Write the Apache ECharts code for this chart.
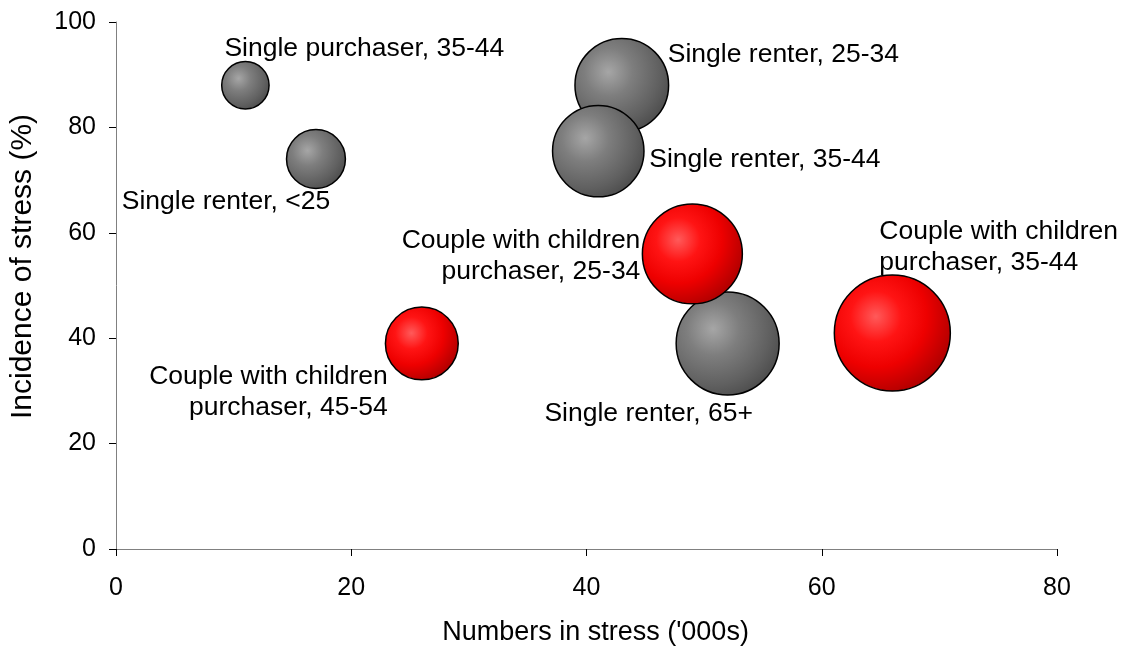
<!DOCTYPE html>
<html>
<head>
<meta charset="utf-8">
<script src="https://cdn.jsdelivr.net/npm/echarts@6/dist/echarts.min.js"></script>
<style>
html,body{margin:0;padding:0;background:#fff;}
#chart{width:1129px;height:651px;}
</style>
</head>
<body>
<div id="chart"></div>
<script>
// ---- data ----
const labels = [
  'Single purchaser, 35-44',
  'Single renter, <25',
  'Single renter, 25-34',
  'Single renter, 35-44',
  'Single renter, 65+',
  'Couple with children\npurchaser, 25-34',
  'Couple with children\npurchaser, 35-44',
  'Couple with children\npurchaser, 45-54'
];
const numbersInStress = [11, 17, 43, 41, 52, 49, 66, 26];   // '000s (x)
const incidenceOfStress = [88, 74, 88, 75.5, 39, 56, 41, 39]; // % (y)
const bubbleSize = [11, 17, 43, 41, 52, 49, 66, 26];
const household = ['single','single','single','single','single','couple','couple','couple'];
const xTicks = [0, 20, 40, 60, 80];
const yTicks = [0, 20, 40, 60, 80, 100];

// ---- styles ----
const FONT = 'Liberation Sans, Arial, sans-serif';
const labelStyles = [
  {align:'left',   offset:[-21,-37]},
  {align:'center', offset:[-90, 43]},
  {align:'left',   offset:[46,-31]},
  {align:'left',   offset:[51, 9]},
  {align:'center', offset:[-79, 70]},
  {align:'right',  offset:[-52, 2]},
  {align:'left',   offset:[-13,-86]},
  {align:'right',  offset:[-34, 49]}
];
const maxSize = Math.max.apply(null, bubbleSize);
const MAX_DIAM = 116;
function grad(stops){
  return {type:'radial', x:0.36, y:0.36, r:0.72, colorStops:stops};
}
const grayFill = grad([
  {offset:0, color:'#a6a6a6'},
  {offset:0.35, color:'#7e7e7e'},
  {offset:0.75, color:'#606060'},
  {offset:1, color:'#4a4a4a'}
]);
const redFill = grad([
  {offset:0, color:'#ff5a5a'},
  {offset:0.3, color:'#ff1414'},
  {offset:0.6, color:'#ee0000'},
  {offset:1, color:'#a80000'}
]);

function makeData(group){
  const out = [];
  for (let i = 0; i < labels.length; i++){
    if (household[i] !== group) continue;
    out.push({
      name: labels[i],
      value: [numbersInStress[i], incidenceOfStress[i], bubbleSize[i]],
      label: {
        show: true,
        position: 'inside',
        formatter: labels[i],
        align: labelStyles[i].align,
        verticalAlign: 'middle',
        offset: labelStyles[i].offset,
        color: '#000',
        fontFamily: FONT,
        fontSize: 26.5,
        lineHeight: 31
      }
    });
  }
  return out;
}
function sizeFn(v){ return MAX_DIAM * Math.sqrt(v[2] / maxSize); }

const option = {
  backgroundColor: '#fff',
  animation: false,
  grid: {left:115, right:72, top:22, bottom:101, containLabel:false},
  xAxis: {
    type:'value', min:0, max:80, interval:20,
    name: "Numbers in stress ('000s)",
    nameLocation:'middle', nameGap:70,
    nameTextStyle:{fontFamily:FONT, fontSize:27, color:'#000', padding:[0,0,0,18]},
    axisLine:{show:true, onZero:false, lineStyle:{color:'#808080', width:1}},
    axisTick:{show:true, inside:false, length:7, lineStyle:{color:'#000'}},
    axisLabel:{fontFamily:FONT, fontSize:25, color:'#000', margin:27,
      formatter: function(v){ return xTicks.indexOf(v) >= 0 ? String(v) : ''; }},
    splitLine:{show:false}
  },
  yAxis: {
    type:'value', min:0, max:100, interval:20,
    name: 'Incidence of stress (%)',
    nameLocation:'middle', nameGap:78, nameRotate:90,
    nameTextStyle:{fontFamily:FONT, fontSize:30, color:'#000', padding:[0,0,0,38]},
    axisLine:{show:true, onZero:false, lineStyle:{color:'#808080', width:1}},
    axisTick:{show:true, inside:false, length:7, lineStyle:{color:'#000'}},
    axisLabel:{fontFamily:FONT, fontSize:25, color:'#000', margin:20,
      formatter: function(v){ return yTicks.indexOf(v) >= 0 ? String(v) : ''; }},
    splitLine:{show:false}
  },
  series: [
    {
      type:'scatter', name:'Single', symbol:'circle',
      symbolSize: sizeFn,
      itemStyle:{color:grayFill, borderColor:'#000', borderWidth:1.5, opacity:1},
      emphasis:{disabled:true},
      data: makeData('single'),
      z: 2
    },
    {
      type:'scatter', name:'Couple with children', symbol:'circle',
      symbolSize: sizeFn,
      itemStyle:{color:redFill, borderColor:'#000', borderWidth:1.5, opacity:1},
      emphasis:{disabled:true},
      data: makeData('couple'),
      z: 3
    }
  ]
};
const chart = echarts.init(document.getElementById('chart'), null, {renderer:'canvas'});
chart.setOption(option);
</script>
</body>
</html>
